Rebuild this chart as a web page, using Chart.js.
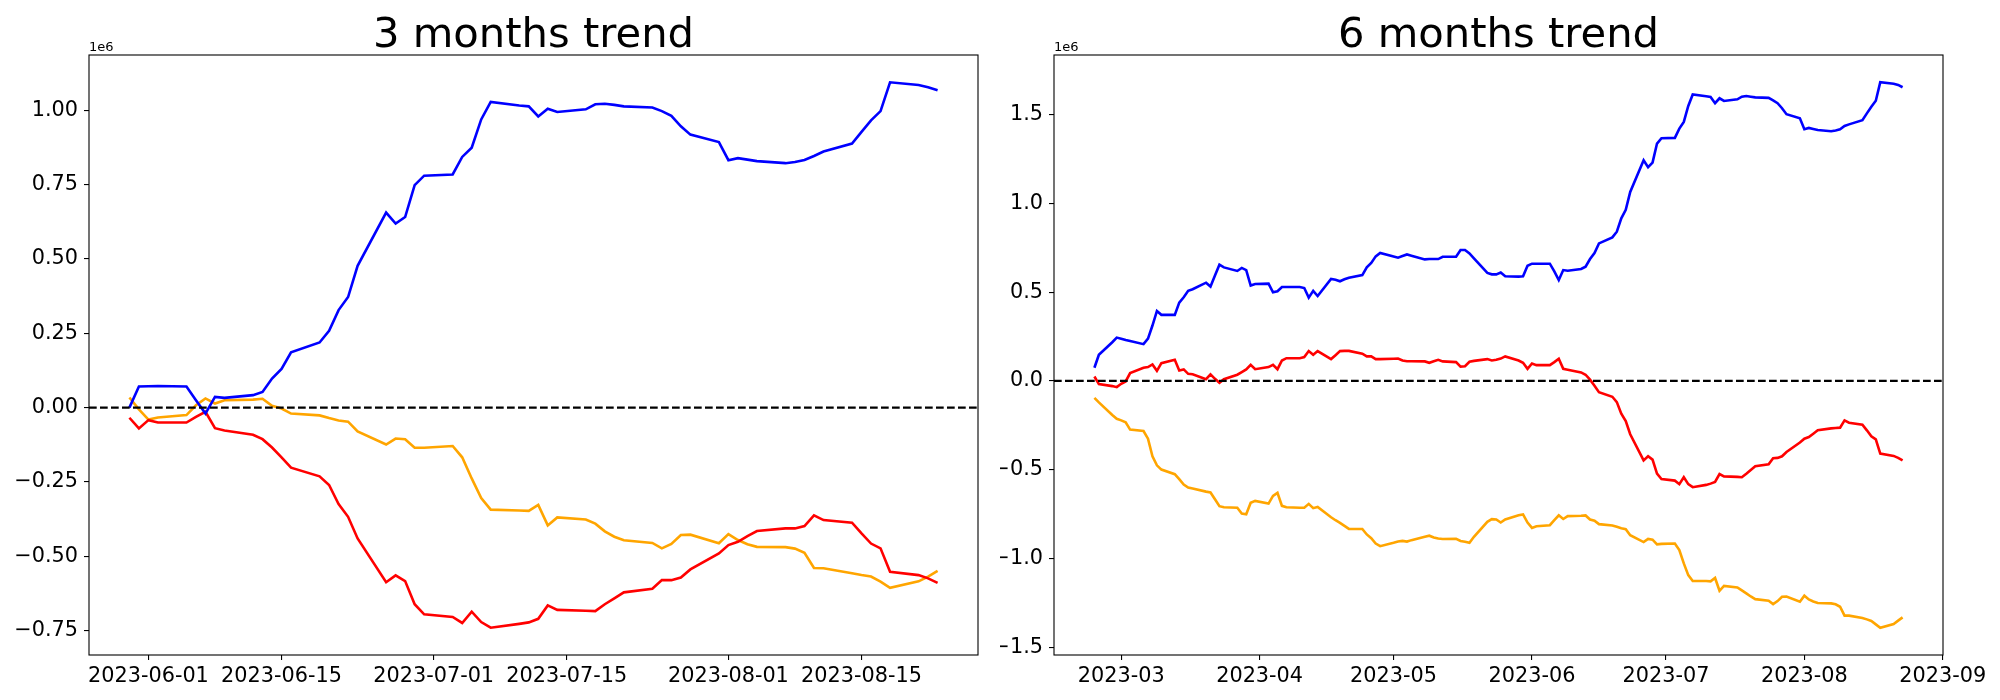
<!DOCTYPE html>
<html>
<head>
<meta charset="UTF-8">
<script src="https://cdn.jsdelivr.net/npm/chart.js@4.4.0/dist/chart.umd.min.js"></script>
<style>
  body { margin: 0; background: #fff; }
  .panel { position: absolute; top: 0; width: 1000px; height: 700px; }
</style>
</head>
<body>
<div class="panel" style="left:0"><canvas id="chart3m" width="1000" height="700"></canvas></div>
<div class="panel" style="left:1000px"><canvas id="chart6m" width="1000" height="700"></canvas></div>
<script>
// trading days shown on the 6 month panel
const dates6m = [
  '2023-02-23','2023-02-24','2023-02-27','2023-02-28',
  '2023-03-01','2023-03-02','2023-03-03','2023-03-06','2023-03-07','2023-03-08','2023-03-09','2023-03-10','2023-03-13','2023-03-14','2023-03-15','2023-03-16','2023-03-17','2023-03-20','2023-03-21','2023-03-22','2023-03-23','2023-03-24','2023-03-27','2023-03-28','2023-03-29','2023-03-30','2023-03-31',
  '2023-04-03','2023-04-04','2023-04-05','2023-04-06','2023-04-07','2023-04-10','2023-04-11','2023-04-12','2023-04-13','2023-04-14','2023-04-17','2023-04-18','2023-04-19','2023-04-20','2023-04-21','2023-04-24','2023-04-25','2023-04-26','2023-04-27','2023-04-28',
  '2023-05-01','2023-05-02','2023-05-03','2023-05-04','2023-05-05','2023-05-08','2023-05-09','2023-05-10','2023-05-11','2023-05-12','2023-05-15','2023-05-16','2023-05-17','2023-05-18','2023-05-19','2023-05-22','2023-05-23','2023-05-24','2023-05-25','2023-05-26','2023-05-29','2023-05-30','2023-05-31',
  '2023-06-01','2023-06-02','2023-06-05','2023-06-06','2023-06-07','2023-06-08','2023-06-09','2023-06-12','2023-06-13','2023-06-14','2023-06-15','2023-06-16','2023-06-19','2023-06-20','2023-06-21','2023-06-22','2023-06-23','2023-06-26','2023-06-27','2023-06-28','2023-06-29','2023-06-30',
  '2023-07-03','2023-07-04','2023-07-05','2023-07-06','2023-07-07','2023-07-10','2023-07-11','2023-07-12','2023-07-13','2023-07-14','2023-07-17','2023-07-18','2023-07-19','2023-07-20','2023-07-21','2023-07-24','2023-07-25','2023-07-26','2023-07-27','2023-07-28','2023-07-31',
  '2023-08-01','2023-08-02','2023-08-03','2023-08-04','2023-08-07','2023-08-08','2023-08-09','2023-08-10','2023-08-11','2023-08-14','2023-08-15','2023-08-16','2023-08-17','2023-08-18','2023-08-21','2023-08-22','2023-08-23'
];
// 3 month panel starts on 2023-05-30
const dates3m = dates6m.slice(dates6m.indexOf('2023-05-30'));

// values are in units of 1e6
const blue6m = [
  0.074, 0.147, 0.218, 0.244,
  0.238, 0.231, 0.225, 0.207, 0.238, 0.312, 0.394, 0.372, 0.372, 0.441, 0.471, 0.507, 0.516, 0.553, 0.531, 0.593, 0.654, 0.639, 0.619, 0.636, 0.624, 0.537, 0.546,
  0.548, 0.499, 0.505, 0.529, 0.529, 0.529, 0.523, 0.469, 0.507, 0.478, 0.574, 0.570, 0.561, 0.572, 0.581, 0.596, 0.639, 0.664, 0.701, 0.720,
  0.701, 0.694, 0.703, 0.712, 0.705, 0.684, 0.686, 0.686, 0.686, 0.699, 0.699, 0.737, 0.737, 0.718, 0.690, 0.608, 0.600, 0.600, 0.610, 0.589, 0.587, 0.589, 0.648,
  0.660, 0.660, 0.660, 0.617, 0.568, 0.624, 0.620, 0.630, 0.643, 0.686, 0.720, 0.774, 0.808, 0.840, 0.915, 0.963, 1.064, 1.242, 1.203, 1.229, 1.336, 1.366,
  1.368, 1.420, 1.458, 1.548, 1.612, 1.602, 1.598, 1.563, 1.591, 1.576, 1.585, 1.600, 1.604, 1.600, 1.596, 1.593, 1.579, 1.563, 1.535, 1.501, 1.478,
  1.417, 1.424, 1.418, 1.412, 1.405, 1.410, 1.416, 1.435, 1.444, 1.468, 1.506, 1.543, 1.577, 1.681, 1.673, 1.666, 1.653
];
const red6m = [
  0.025, -0.018, -0.029, -0.035,
  -0.016, -0.003, 0.044, 0.074, 0.078, 0.093, 0.057, 0.100, 0.119, 0.059, 0.065, 0.040, 0.038, 0.010, 0.037, 0.012, -0.010, 0.010, 0.035, 0.050, 0.065, 0.091, 0.066,
  0.078, 0.091, 0.066, 0.115, 0.128, 0.128, 0.134, 0.168, 0.147, 0.168, 0.123, 0.145, 0.168, 0.169, 0.169, 0.153, 0.138, 0.138, 0.123, 0.123,
  0.125, 0.126, 0.115, 0.111, 0.111, 0.110, 0.102, 0.111, 0.119, 0.110, 0.106, 0.081, 0.083, 0.108, 0.113, 0.123, 0.115, 0.119, 0.126, 0.138, 0.115, 0.102, 0.068,
  0.098, 0.089, 0.089, 0.106, 0.125, 0.068, 0.063, 0.048, 0.035, 0.007, -0.027, -0.063, -0.089, -0.119, -0.184, -0.226, -0.300, -0.447, -0.424, -0.443, -0.522, -0.552,
  -0.561, -0.581, -0.542, -0.581, -0.598, -0.585, -0.578, -0.568, -0.524, -0.537, -0.540, -0.542, -0.522, -0.501, -0.480, -0.469, -0.435, -0.433, -0.424, -0.400, -0.347,
  -0.325, -0.316, -0.297, -0.278, -0.267, -0.265, -0.263, -0.222, -0.235, -0.246, -0.278, -0.312, -0.329, -0.409, -0.422, -0.433, -0.447
];
const orange6m = [
  -0.095, -0.121, -0.192, -0.213,
  -0.222, -0.233, -0.274, -0.282, -0.325, -0.424, -0.475, -0.499, -0.525, -0.553, -0.583, -0.600, -0.606, -0.623, -0.628, -0.666, -0.705, -0.711, -0.714, -0.746, -0.750, -0.686, -0.675,
  -0.690, -0.647, -0.630, -0.703, -0.711, -0.714, -0.714, -0.692, -0.716, -0.709, -0.767, -0.784, -0.799, -0.816, -0.833, -0.833, -0.864, -0.885, -0.915, -0.930,
  -0.911, -0.904, -0.900, -0.904, -0.896, -0.877, -0.871, -0.881, -0.887, -0.890, -0.889, -0.901, -0.905, -0.911, -0.877, -0.793, -0.778, -0.780, -0.797, -0.780, -0.756, -0.751, -0.797,
  -0.827, -0.818, -0.812, -0.784, -0.756, -0.777, -0.761, -0.759, -0.757, -0.780, -0.787, -0.806, -0.814, -0.821, -0.829, -0.834, -0.868, -0.907, -0.889, -0.893, -0.920, -0.917,
  -0.915, -0.952, -1.027, -1.093, -1.126, -1.126, -1.128, -1.109, -1.181, -1.154, -1.162, -1.179, -1.196, -1.213, -1.228, -1.237, -1.256, -1.239, -1.215, -1.213, -1.243,
  -1.209, -1.230, -1.241, -1.250, -1.252, -1.257, -1.271, -1.321, -1.321, -1.334, -1.342, -1.351, -1.370, -1.389, -1.368, -1.349, -1.331
];

const blue3m = [
  0.000, 0.071,
  0.072, 0.073, 0.071, 0.025, -0.020, 0.036, 0.033, 0.042, 0.053, 0.098, 0.130, 0.186, 0.219, 0.258, 0.328, 0.372, 0.477, 0.656, 0.619, 0.641, 0.748, 0.780,
  0.784, 0.843, 0.874, 0.969, 1.028, 1.016, 1.013, 0.979, 1.005, 0.994, 1.003, 1.020, 1.022, 1.018, 1.013, 1.009, 0.997, 0.981, 0.946, 0.918, 0.893,
  0.832, 0.839, 0.834, 0.829, 0.822, 0.826, 0.833, 0.846, 0.861, 0.888, 0.927, 0.966, 0.997, 1.094, 1.085, 1.077, 1.067
];
const red3m = [
  -0.034, -0.070,
  -0.042, -0.050, -0.050, -0.031, -0.014, -0.069, -0.077, -0.091, -0.106, -0.134, -0.167, -0.202, -0.231, -0.260, -0.324, -0.367, -0.440, -0.587, -0.564, -0.583, -0.661, -0.695,
  -0.704, -0.724, -0.686, -0.721, -0.740, -0.727, -0.722, -0.710, -0.665, -0.680, -0.683, -0.684, -0.661, -0.641, -0.621, -0.609, -0.580, -0.580, -0.571, -0.544, -0.490,
  -0.462, -0.451, -0.432, -0.415, -0.406, -0.406, -0.398, -0.362, -0.378, -0.387, -0.423, -0.457, -0.473, -0.552, -0.563, -0.574, -0.589
];
const orange3m = [
  0.034, -0.006,
  -0.040, -0.033, -0.025, 0.008, 0.031, 0.014, 0.025, 0.027, 0.030, 0.006, -0.003, -0.020, -0.026, -0.035, -0.043, -0.047, -0.080, -0.124, -0.104, -0.106, -0.135, -0.135,
  -0.129, -0.167, -0.238, -0.304, -0.343, -0.346, -0.347, -0.327, -0.396, -0.369, -0.376, -0.390, -0.416, -0.434, -0.446, -0.455, -0.473, -0.458, -0.428, -0.427, -0.456,
  -0.425, -0.445, -0.459, -0.468, -0.469, -0.474, -0.488, -0.539, -0.540, -0.557, -0.563, -0.568, -0.585, -0.606, -0.584, -0.568, -0.549
];

const xTicks3m = ['2023-06-01', '2023-06-15', '2023-07-01', '2023-07-15', '2023-08-01', '2023-08-15'];
const xLabels3m = ['2023-06-01', '2023-06-15', '2023-07-01', '2023-07-15', '2023-08-01', '2023-08-15'];
const xTicks6m = ['2023-03-01', '2023-04-01', '2023-05-01', '2023-06-01', '2023-07-01', '2023-08-01', '2023-09-01'];
const xLabels6m = ['2023-03', '2023-04', '2023-05', '2023-06', '2023-07', '2023-08', '2023-09'];
const yTicks3m = [-0.75, -0.5, -0.25, 0, 0.25, 0.5, 0.75, 1.0];
const yTicks6m = [-1.5, -1.0, -0.5, 0, 0.5, 1.0, 1.5];

const seriesColors = ['#0000ff', '#ff0000', '#ffa500'];
const FONT = 'DejaVu Sans';

function dayNum(s) {
    const [y, m, d] = s.split('-').map(Number);
    return Date.UTC(y, m - 1, d) / 864e5;
}

// dashed zero line, box around the axes, title and the 1e6 offset text
const framePlugin = {
    id: 'frame',
    afterDatasetsDraw(chart, args, opts) {
        const ctx = chart.ctx;
        const a = chart.chartArea;
        const y0 = chart.scales.y.getPixelForValue(0);
        ctx.save();
        ctx.strokeStyle = '#000';
        ctx.lineWidth = 2.2;
        ctx.setLineDash([7.7, 3.3]);
        ctx.beginPath();
        ctx.moveTo(a.left, y0);
        ctx.lineTo(a.right, y0);
        ctx.stroke();
        ctx.setLineDash([]);
        ctx.lineWidth = 1.1;
        ctx.strokeRect(a.left, a.top, a.right - a.left, a.bottom - a.top);
        ctx.fillStyle = '#000';
        ctx.font = '41.7px "' + FONT + '"';
        ctx.textAlign = 'center';
        ctx.textBaseline = 'alphabetic';
        ctx.fillText(opts.title, (a.left + a.right) / 2, 47);
        ctx.font = '13px "' + FONT + '"';
        ctx.textAlign = 'left';
        ctx.fillText('1e6', a.left, 51);
        ctx.restore();
    }
};

function makeChart(id, title, dates, series, xTicks, xLabels, yTicks, decimals, areaLeft, areaRight) {
    const xs = dates.map(dayNum);
    const xPad = 0.05 * (xs[xs.length - 1] - xs[0]);
    const all = [].concat(...series);
    const lo = Math.min(...all), hi = Math.max(...all);
    const yPad = 0.05 * (hi - lo);
    const tickVals = xTicks.map(dayNum);

    const datasets = series.map((vals, k) => ({
        data: vals.map((v, i) => ({ x: xs[i], y: v })),
        borderColor: seriesColors[k],
        borderWidth: 2.6,
        pointRadius: 0,
        tension: 0,
        fill: false
    }));

    const tickFont = { family: FONT, size: 20.8 };
    const gridOpts = { drawOnChartArea: false, drawTicks: true, tickLength: 5, color: '#000', lineWidth: 1.1 };

    return new Chart(document.getElementById(id), {
        type: 'line',
        data: { datasets: datasets },
        plugins: [framePlugin],
        options: {
            responsive: false,
            animation: false,
            devicePixelRatio: 1,
            layout: { padding: { left: 0, right: 1000 - areaRight, top: 55, bottom: 0 } },
            plugins: {
                legend: { display: false },
                tooltip: { enabled: false },
                frame: { title: title }
            },
            scales: {
                x: {
                    type: 'linear',
                    min: xs[0] - xPad,
                    max: xs[xs.length - 1] + xPad,
                    border: { display: false },
                    grid: gridOpts,
                    ticks: {
                        autoSkip: false, maxRotation: 0, color: '#000', font: tickFont, padding: 4,
                        callback: (v, i) => xLabels[i]
                    },
                    afterBuildTicks: s => { s.ticks = tickVals.map(v => ({ value: v })); },
                    afterFit: s => { s.height = 45; }
                },
                y: {
                    type: 'linear',
                    min: lo - yPad,
                    max: hi + yPad,
                    border: { display: false },
                    grid: gridOpts,
                    ticks: {
                        color: '#000', font: tickFont, padding: 6,
                        callback: v => v.toFixed(decimals).replace('-', '\u2212')
                    },
                    afterBuildTicks: s => { s.ticks = yTicks.map(v => ({ value: v })); },
                    afterFit: s => { s.width = areaLeft; }
                }
            }
        }
    });
}

makeChart('chart3m', '3 months trend', dates3m, [blue3m, red3m, orange3m],
    xTicks3m, xLabels3m, yTicks3m, 2, 89, 978);
makeChart('chart6m', '6 months trend', dates6m, [blue6m, red6m, orange6m],
    xTicks6m, xLabels6m, yTicks6m, 1, 54, 943);
</script>
</body>
</html>
